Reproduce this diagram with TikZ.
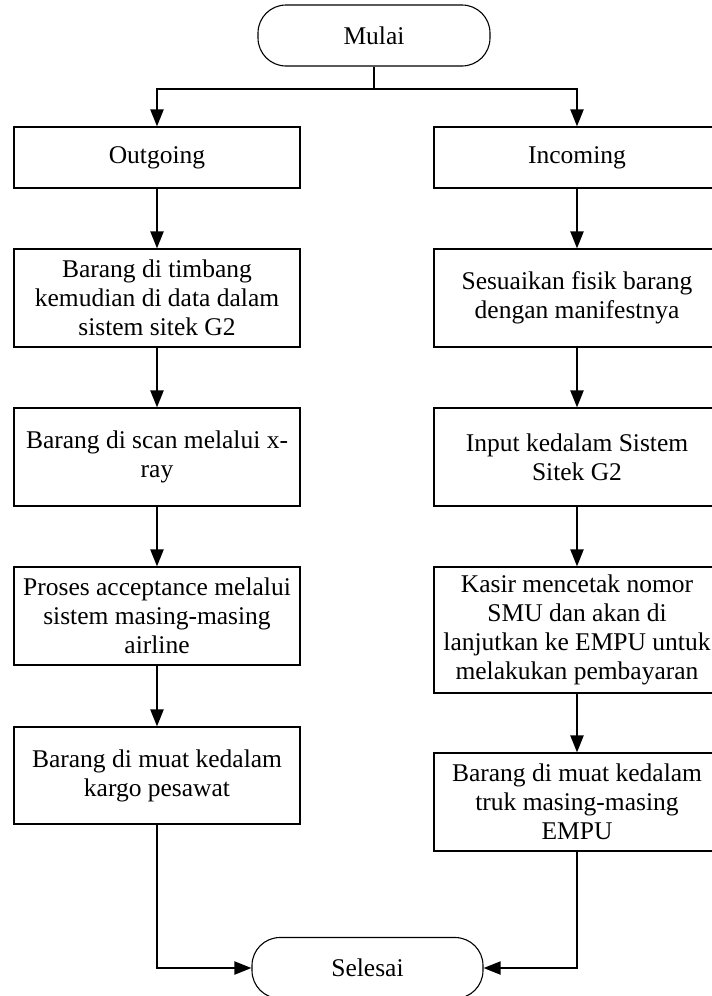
\documentclass[tikz,border=0pt]{standalone}
\usepackage{fontspec}
\setmainfont{Liberation Serif}
\usetikzlibrary{arrows.meta}
\begin{document}
\begin{tikzpicture}[x=1pt,y=-1pt,
  every node/.style={font=\fontsize{25.5}{29}\selectfont},
  box/.style={draw=black, line width=1.1pt, rectangle, align=center, minimum width=286pt, inner sep=0pt},
  term/.style={draw=black, line width=1.1pt, rectangle, rounded corners=28pt, align=center, inner sep=0pt},
  conn/.style={line width=2pt, -{Triangle[length=17pt,width=13pt]}},
  plain/.style={line width=2pt}]
\useasboundingbox (0,0) rectangle (712,996);
\fill[white] (0,0) rectangle (712,996);
\begin{scope}
\clip (0,0) rectangle (712,996);
% terminals
\node[term, minimum width=232pt, minimum height=61pt] (mulai) at (374,35.5) {Mulai};
\node[term, minimum width=231pt, minimum height=61pt] (sel) at (367.5,968) {Selesai};
% left column
\node[box, minimum height=61pt] (out) at (157,157.5) {Outgoing};
\node[box, minimum height=98pt] (l2) at (157,298) {Barang di timbang\\kemudian di data dalam\\sistem sitek G2};
\node[box, minimum height=98pt] (l3) at (157,457) {Barang di scan melalui x-\\ray};
\node[box, minimum height=98pt] (l4) at (157,616) {Proses acceptance melalui\\sistem masing-masing\\airline};
\node[box, minimum height=97pt] (l5) at (157,775.5) {Barang di muat kedalam\\kargo pesawat};
% right column
\node[box, minimum height=61pt] (inc) at (577,157.5) {Incoming};
\node[box, minimum height=98pt] (r2) at (577,298) {Sesuaikan fisik barang\\dengan manifestnya};
\node[box, minimum height=98pt] (r3) at (577,457) {Input kedalam Sistem\\Sitek G2};
\node[box, minimum height=126pt] (r4) at (577,630) {Kasir mencetak nomor\\SMU dan akan di\\lanjutkan ke EMPU untuk\\melakukan pembayaran};
\node[box, minimum height=98pt] (r5) at (577,802) {Barang di muat kedalam\\truk masing-masing\\EMPU};
% connectors
\coordinate (j) at (374,89);
\draw[plain] (mulai.south) -- (j);
\draw[conn] (j) -| (out.north);
\draw[conn] (j) -| (inc.north);
\draw[conn] (out) -- (l2);
\draw[conn] (l2) -- (l3);
\draw[conn] (l3) -- (l4);
\draw[conn] (l4) -- (l5);
\draw[conn] (inc) -- (r2);
\draw[conn] (r2) -- (r3);
\draw[conn] (r3) -- (r4);
\draw[conn] (r4) -- (r5);
\draw[conn] (l5.south) |- (sel.west);
\draw[conn] (r5.south) |- (sel.east);
\end{scope}
\end{tikzpicture}
\end{document}
